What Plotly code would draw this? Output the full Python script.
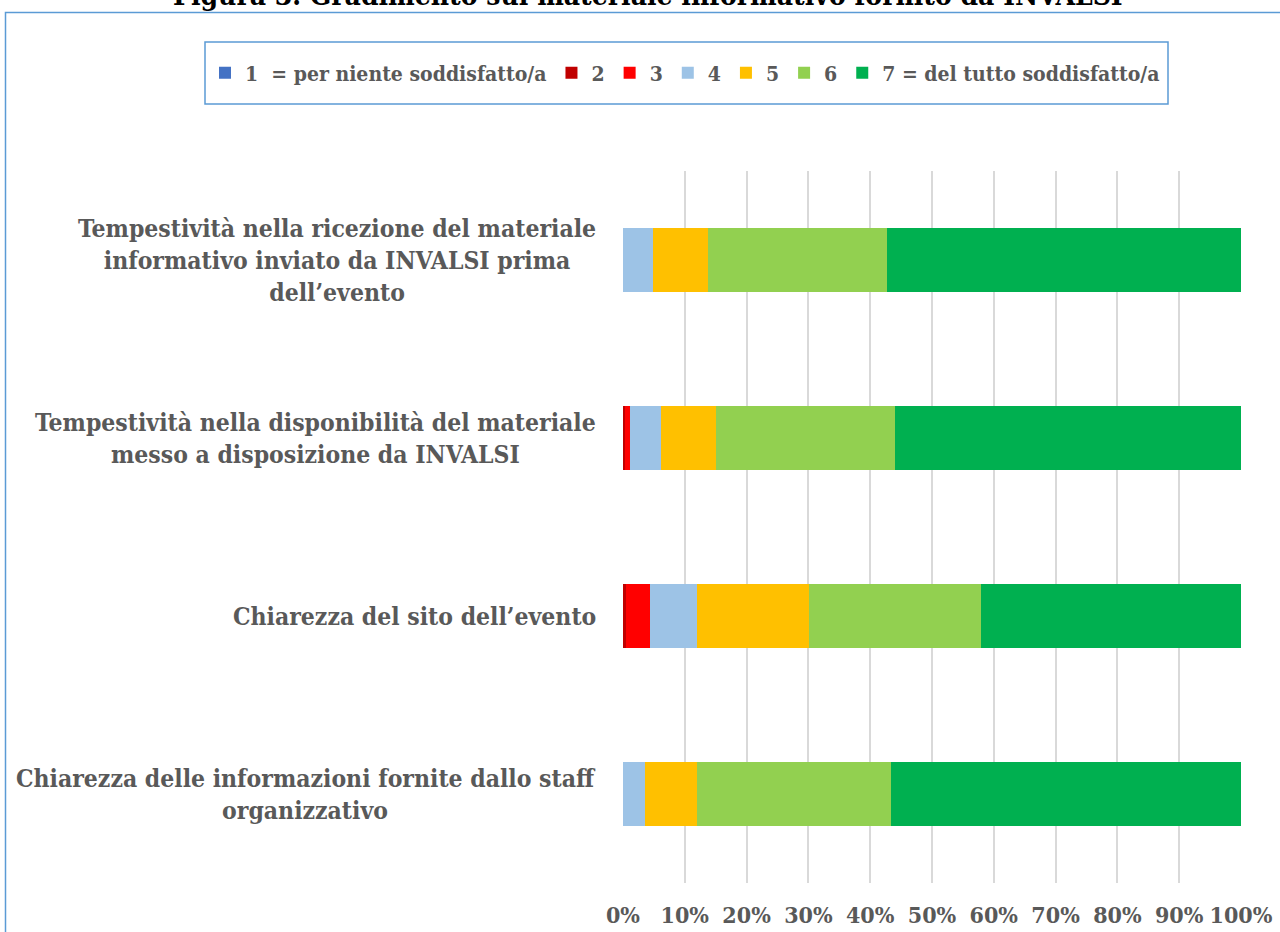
import plotly.graph_objects as go

categories = [
    "Tempestività nella ricezione del materiale<br>informativo inviato da INVALSI prima<br>dell’evento",
    "Tempestività nella disponibilità del materiale<br>messo a disposizione da INVALSI",
    "Chiarezza del sito dell’evento",
    "Chiarezza delle informazioni fornite dallo staff<br>organizzativo",
]
series_names = [
    "1\u00a0\u00a0= per niente soddisfatto/a",
    "2", "3", "4", "5", "6",
    "7 = del tutto soddisfatto/a",
]
# percentages per series, in category order
s1 = [0.0, 0.0, 0.0, 0.0]
s2 = [0.0, 0.4, 0.5, 0.0]
s3 = [0.0, 0.7, 3.8, 0.0]
s4 = [4.9, 5.1, 7.6, 3.6]
s5 = [8.8, 8.8, 18.2, 8.3]
s6 = [29.0, 29.0, 27.8, 31.5]
s7 = [57.3, 56.0, 42.1, 56.6]
series_values = [s1, s2, s3, s4, s5, s6, s7]
colors = ["#4472C4", "#C00000", "#FF0000", "#9DC3E6", "#FFC000", "#92D050", "#00B050"]
tick_vals = [0, 10, 20, 30, 40, 50, 60, 70, 80, 90, 100]
tick_text = [f"{v}%" for v in tick_vals]
title_text = "Figura 3. Gradimento sul materiale informativo fornito da INVALSI"

FONT = "DejaVu Serif Condensed"
GREY = "#595959"

W, H = 1280, 932
L, R, T, B = 623, 39, 171, 49
pw, ph = W - L - R, H - T - B

def px_x(x):
    return (x - L) / pw

def px_y(y):
    return (H - B - y) / ph

fig = go.Figure()
for name, vals, col in zip(series_names, series_values, colors):
    fig.add_trace(go.Bar(
        y=categories, x=vals, name=name, orientation="h",
        marker=dict(color=col, line=dict(width=0)),
        width=0.36,
        hoverinfo="x+name",
    ))

annotations = []
for c in categories:
    annotations.append(dict(
        x=0, y=c, xref="paper", yref="y", text=c, showarrow=False,
        xanchor="right", yanchor="middle", align="center", xshift=-25,
        font=dict(family=FONT, size=24.5, color=GREY, weight="bold"),
    ))
annotations.append(dict(
    x=px_x(648), y=px_y(14), xref="paper", yref="paper", text=title_text,
    showarrow=False, xanchor="center", yanchor="bottom",
    font=dict(family=FONT, size=28, color="#000000", weight="bold"),
))

shapes = [
    # outer chart border
    dict(type="rect", xref="paper", yref="paper",
         x0=px_x(5.5), x1=px_x(1300), y0=px_y(960), y1=px_y(12.5),
         line=dict(color="#5B9BD5", width=1.5), fillcolor="rgba(0,0,0,0)", layer="below"),
    # legend box
    dict(type="rect", xref="paper", yref="paper",
         x0=px_x(205), x1=px_x(1168), y0=px_y(104), y1=px_y(42),
         line=dict(color="#5B9BD5", width=1.5), fillcolor="white", layer="below"),
]

fig.update_layout(
    width=W, height=H,
    margin=dict(l=L, r=R, t=T, b=B, autoexpand=False),
    barmode="stack",
    paper_bgcolor="white", plot_bgcolor="white",
    showlegend=True,
    legend=dict(
        orientation="h", x=px_x(205), xanchor="left", y=px_y(73), yanchor="middle",
        bgcolor="rgba(0,0,0,0)", borderwidth=0,
        font=dict(family=FONT, size=21, color=GREY, weight="bold"),
        itemwidth=30, traceorder="normal",
    ),
    xaxis=dict(
        range=[0, 100], tickvals=tick_vals, ticktext=tick_text,
        showgrid=True, gridcolor="#D9D9D9", gridwidth=1.5,
        zeroline=False, showline=False, ticks="",
        tickfont=dict(family=FONT, size=23, color=GREY, weight="bold"),
        ticklabelstandoff=16,
    ),
    yaxis=dict(
        categoryorder="array", categoryarray=categories[::-1],
        showticklabels=False, showgrid=False, zeroline=False, showline=False, ticks="",
    ),
    annotations=annotations,
    shapes=shapes,
)

fig.write_html("out.html", config={"displayModeBar": False},
               post_script="document.body.style.margin='0';")
